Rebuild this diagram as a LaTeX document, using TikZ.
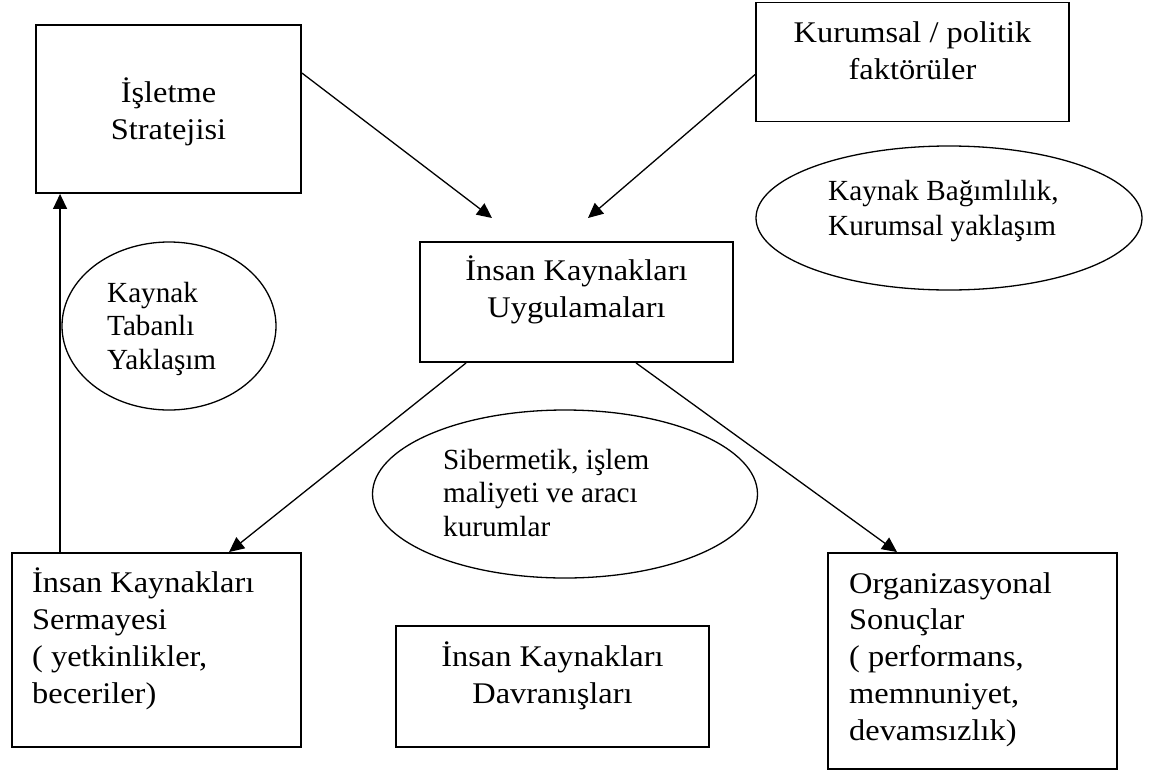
\documentclass[tikz,border=0pt]{standalone}
\usepackage{fontspec}
\setmainfont{Liberation Serif}
\newfontfamily\boxfont{Liberation Serif}[FakeStretch=1.08]
\usetikzlibrary{shapes.geometric,arrows.meta,calc}
\begin{document}
\begin{tikzpicture}[x=1pt,y=-1pt,
  box/.style={draw,line width=1.9pt,inner sep=0pt},
  oval/.style={draw,ellipse,line width=1.3pt,inner sep=0pt},
  txt/.style={inner sep=0pt,font=\boxfont\fontsize{30}{36.7}\selectfont},
  ovaltxt/.style={inner sep=0pt,font=\fontsize{29.2}{33.5}\selectfont},
  arr/.style={line width=1.3pt,-{Triangle[length=15pt,width=14pt]}}]
\useasboundingbox (0,0) rectangle (1157,774);

% frames
\node[box,minimum width=265pt,minimum height=168pt] (strat) at (168.5,109) {};
\node[box,minimum width=313pt,minimum height=119pt] (kurum) at (912.5,62) {};
\node[box,minimum width=313pt,minimum height=120pt] (uyg) at (576.5,302) {};
\node[box,minimum width=313pt,minimum height=121pt] (dav) at (552.5,686.5) {};
\node[box,minimum width=289pt,minimum height=194pt] (serm) at (156.5,650) {};
\node[box,minimum width=289pt,minimum height=216pt] (org) at (972.5,661) {};

% theory ellipses
\node[oval,minimum width=386pt,minimum height=144pt] (kbag) at (949,218) {};
\node[oval,minimum width=214pt,minimum height=168pt] (ktab) at (169,326) {};
\node[oval,minimum width=385pt,minimum height=168pt] (sib) at (565,494) {};

% labels (anchored at the baseline of the last line)
\node[txt,align=center,anchor=base] (tstrat) at (168.5,139) {İşletme\\Stratejisi};
\node[txt,align=center,anchor=base] (tkurum) at (912.5,79) {Kurumsal / politik\\faktörüler};
\node[txt,align=center,anchor=base] (tuyg) at (576.5,317) {İnsan Kaynakları\\Uygulamaları};
\node[txt,align=center,anchor=base] (tdav) at (552.5,703) {İnsan Kaynakları\\Davranışları};
\node[txt,align=left,anchor=base west] (tserm) at (32,703) {İnsan Kaynakları\\Sermayesi\\( yetkinlikler,\\beceriler)};
\node[txt,align=left,anchor=base west] (torg) at (849,740) {Organizasyonal\\Sonuçlar\\( performans,\\memnuniyet,\\devamsızlık)};
\node[ovaltxt,align=left,anchor=base west,font=\fontsize{29.2}{35}\selectfont] (tkbag) at (828,235) {Kaynak Bağımlılık,\\Kurumsal yaklaşım};
\node[ovaltxt,align=left,anchor=base west] (tktab) at (107,369) {Kaynak\\Tabanlı\\Yaklaşım};
\node[ovaltxt,align=left,anchor=base west] (tsib) at (443,536) {Sibermetik, işlem\\maliyeti ve aracı\\kurumlar};

% connector end points
\coordinate (s1) at ($(strat.north east)+(0,49)$);
\coordinate (e1) at (492,218);
\coordinate (s2) at ($(kurum.north west)+(0,73)$);
\coordinate (e2) at (588,218);

% connectors
\draw[arr] (s1) -- (e1);
\draw[arr] (s2) -- (e2);
\draw[arr] ($(uyg.south west)+(47,0)$) -- ($(serm.north west)+(218,0)$);
\draw[arr] ($(uyg.south west)+(217,0)$) -- ($(org.north west)+(70,0)$);
\draw[arr] ($(serm.north west)+(49,0)$) -- ($(strat.south west)+(25,0)$);
\end{tikzpicture}
\end{document}
